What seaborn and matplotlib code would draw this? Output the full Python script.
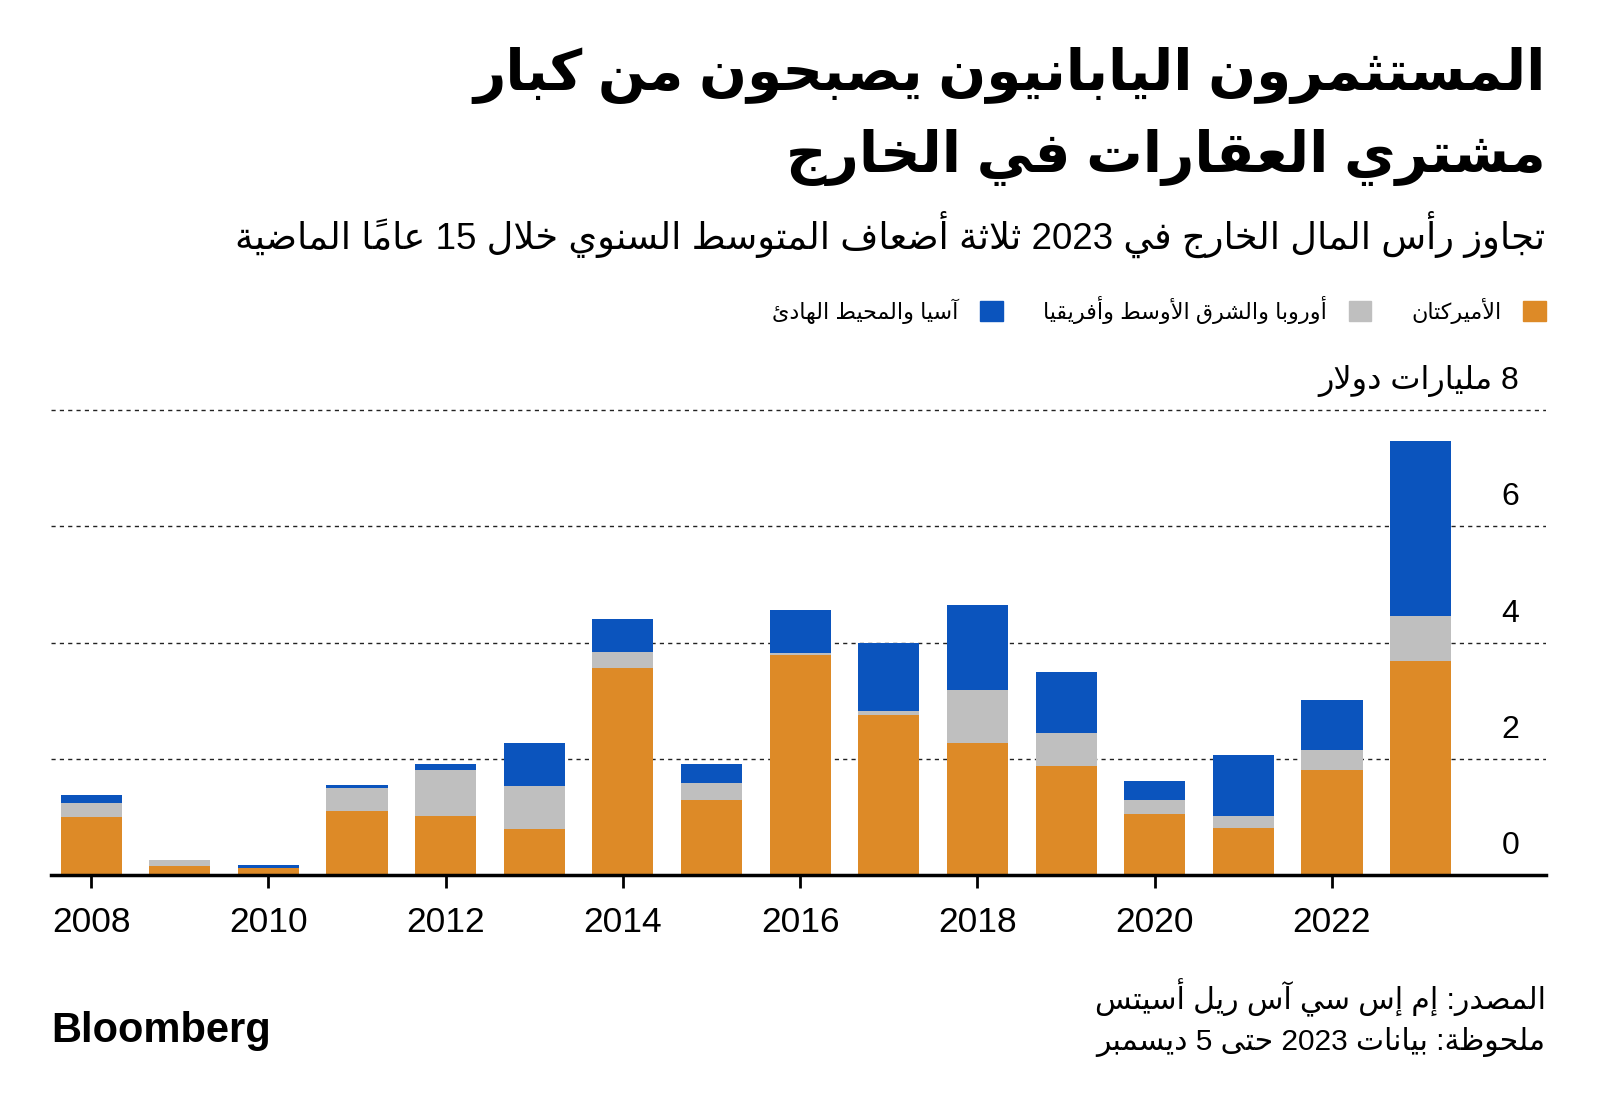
import matplotlib
matplotlib.use("Agg")
import matplotlib.pyplot as plt
import matplotlib.transforms as mtrans
from matplotlib.patches import Patch
import pandas as pd
import seaborn as sns

# data (billions of dollars)
years = list(range(2008, 2024))
americas = [1.00, 0.16, 0.12, 1.10, 1.02, 0.79, 3.56, 1.30, 3.79, 2.75, 2.28, 1.88, 1.05, 0.81, 1.81, 3.68]
emea = [0.25, 0.10, 0.00, 0.40, 0.80, 0.75, 0.28, 0.28, 0.03, 0.07, 0.90, 0.56, 0.25, 0.21, 0.35, 0.77]
apac = [0.14, 0.00, 0.06, 0.05, 0.09, 0.74, 0.56, 0.33, 0.74, 1.18, 1.47, 1.05, 0.33, 1.05, 0.86, 3.02]
y_ticks = [0, 2, 4, 6, 8]

title_1 = "المستثمرون اليابانيون يصبحون من كبار"
title_2 = "مشتري العقارات في الخارج"
subtitle = "تجاوز رأس المال الخارج في 2023 ثلاثة أضعاف المتوسط السنوي خلال 15 عاماً الماضية"
lbl_americas = "الأميركتان"
lbl_emea = "أوروبا والشرق الأوسط وأفريقيا"
lbl_apac = "آسيا والمحيط الهادئ"
unit = "مليارات دولار"
source = "المصدر: إم إس سي آس ريل أسيتس"
note = "ملحوظة: بيانات 2023 حتى 5 ديسمبر"

ORANGE = "#DD8A27"
GRAY = "#BFBFBF"
BLUE = "#0B54BD"


# --- tiny arabic shaper, matplotlib has no text shaping / bidi ---
def _build_forms():
    order = [(0x621, 1)] + [(c, 2) for c in (0x622, 0x623, 0x624, 0x625)]
    order += [(0x626, 4), (0x627, 2), (0x628, 4), (0x629, 2)]
    order += [(c, 4) for c in range(0x62A, 0x62F)]
    order += [(c, 2) for c in range(0x62F, 0x633)]
    order += [(c, 4) for c in range(0x633, 0x63B)]
    order += [(c, 4) for c in range(0x641, 0x648)]
    order += [(0x648, 2), (0x649, 2), (0x64A, 4)]
    forms, base = {}, 0xFE80
    for c, n in order:
        forms[chr(c)] = (base, n)
        base += n
    return forms


FORMS = _build_forms()
HARAKAT = set(chr(c) for c in range(0x64B, 0x653))
LAM_ALEF = {"\u0622": 0xFEF5, "\u0623": 0xFEF7, "\u0625": 0xFEF9, "\u0627": 0xFEFB}


def shape(text):
    chars = list(text)
    n = len(chars)

    def nb(i, step):
        j = i + step
        while 0 <= j < n and chars[j] in HARAKAT:
            j += step
        return j if 0 <= j < n else None

    out, skip = [], set()
    for i, ch in enumerate(chars):
        if i in skip:
            continue
        if ch not in FORMS:
            out.append(ch)
            continue
        base, k = FORMS[ch]
        p = nb(i, -1)
        joins_prev = k >= 2 and p is not None and chars[p] in FORMS and FORMS[chars[p]][1] == 4
        nx = nb(i, 1)
        if ch == "\u0644" and nx is not None and chars[nx] in LAM_ALEF:
            out.append(chr(LAM_ALEF[chars[nx]] + (1 if joins_prev else 0)))
            skip.add(nx)
            continue
        joins_next = k == 4 and nx is not None and chars[nx] in FORMS and FORMS[chars[nx]][1] >= 2
        if joins_prev and joins_next:
            out.append(chr(base + 3))
        elif joins_prev:
            out.append(chr(base + 1))
        elif joins_next:
            out.append(chr(base + 2))
        else:
            out.append(chr(base))
    return "".join(out)


def ar(text):
    clusters = []
    for ch in shape(text):
        if ch in HARAKAT and clusters:
            clusters[-1] += ch
        elif ch.isdigit() and clusters and clusters[-1][-1].isdigit():
            clusters[-1] += ch
        else:
            clusters.append(ch)
    return "".join(reversed(clusters))


sns.set_theme(style="white")
plt.rcParams["font.family"] = ["Liberation Sans", "DejaVu Sans"]
plt.rcParams["text.color"] = "black"
plt.rcParams["xtick.color"] = "black"

df = pd.DataFrame({"year": years, "americas": americas, "emea": emea, "apac": apac})
df["to_emea"] = df["americas"] + df["emea"]
df["total"] = df["to_emea"] + df["apac"]

fig = plt.figure(figsize=(16, 11.09), dpi=100)
ax = fig.add_axes([0.032, 0.2106, 0.934, 0.4409])

# stacked look: draw totals first, then cover with lower levels
for col, color in [("total", BLUE), ("to_emea", GRAY), ("americas", ORANGE)]:
    sns.barplot(data=df, x="year", y=col, color=color, saturation=1, width=0.69,
                linewidth=0, ax=ax, zorder=2)

ax.set_xlim(-0.45, 16.41)
ax.set_ylim(0, 8.4)
ax.set_xlabel("")
ax.set_ylabel("")
ax.set_xticks(range(0, len(years), 2))
ax.set_xticklabels([str(y) for y in years[::2]])
ax.tick_params(axis="x", bottom=True, length=9, width=2, color="black", pad=13,
               labelsize=25.5, labelcolor="black")
ax.set_yticks(y_ticks)
ax.tick_params(axis="y", left=False, labelleft=False)
ax.yaxis.grid(True, linestyle=(0, (3, 3)), color="#222222", linewidth=1)
ax.xaxis.grid(False)
ax.set_axisbelow(True)
for s in ["top", "left", "right"]:
    ax.spines[s].set_visible(False)
ax.spines["bottom"].set_color("black")
ax.spines["bottom"].set_linewidth(2.5)
ax.spines["bottom"].set_zorder(3)

trans = mtrans.offset_copy(ax.get_yaxis_transform(), fig=fig, y=29, units="dots")
for v in y_ticks:
    lab = str(v) if v != 8 else ar("8 " + unit)
    ax.text(0.9826, v, lab, transform=trans, ha="right", va="center", fontsize=23)

# titles
fig.text(0.966, 1 - 75 / 1109, ar(title_1), ha="right", va="center", fontsize=40.5, weight="bold")
fig.text(0.966, 1 - 157 / 1109, ar(title_2), ha="right", va="center", fontsize=40.5, weight="bold")
fig.text(0.966, 1 - 234 / 1109, ar(subtitle), ha="right", va="center", fontsize=26.5)

handles = [Patch(color=BLUE, label=ar(lbl_apac)),
           Patch(color=GRAY, label=ar(lbl_emea)),
           Patch(color=ORANGE, label=ar(lbl_americas))]
fig.legend(handles=handles, loc="center right", bbox_to_anchor=(0.966, 1 - 310 / 1109),
           ncol=3, frameon=False, markerfirst=False, handlelength=1, handleheight=1,
           handletextpad=1.0, columnspacing=1.8, borderpad=0, borderaxespad=0, fontsize=16)

fig.text(0.966, 1 - 998 / 1109, ar(source), ha="right", va="center", fontsize=21.5)
fig.text(0.966, 1 - 1042 / 1109, ar(note), ha="right", va="center", fontsize=21.5)
fig.text(0.032, 1 - 1031 / 1109, "Bloomberg", ha="left", va="center", fontsize=30, weight="bold")

fig.savefig("out.png", dpi=100, facecolor="white")
